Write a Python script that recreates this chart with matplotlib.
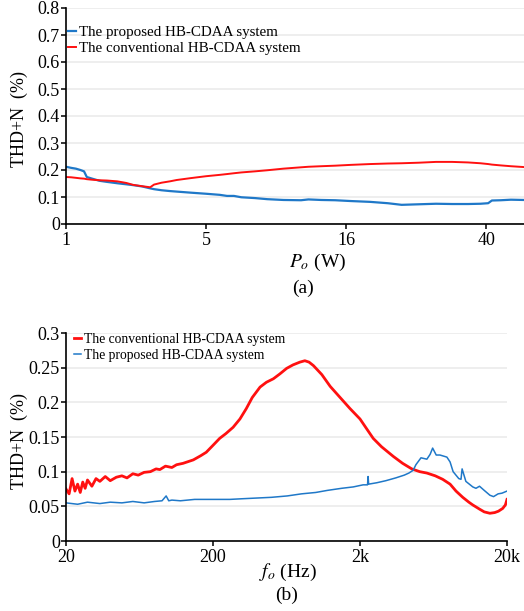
import numpy as np
import matplotlib
matplotlib.use('Agg')
import matplotlib.pyplot as plt

plt.rcParams['font.family'] = ['Liberation Serif', 'DejaVu Serif']
plt.rcParams['mathtext.fontset'] = 'stix'

# (a) THD+N vs output power
po_w = [1.0, 1.06, 1.12, 1.18, 1.23, 1.27, 1.35, 1.47, 1.6, 1.8, 2.0, 2.16, 2.4, 2.63, 2.75,
        3.0, 3.3, 3.57, 4.2, 5.0, 5.6, 5.95, 6.3, 6.7, 7.5, 8.3, 9.5, 11.0, 11.7, 13.0,
        14.6, 16.5, 18.7, 21.0, 23.0, 25.7, 28.8, 32.0, 35.5, 38.5, 40.5, 41.5, 44.0,
        47.0, 51.0]
thd_proposed = [0.212, 0.208, 0.205, 0.200, 0.195, 0.174, 0.168, 0.160, 0.156, 0.151,
                0.147, 0.144, 0.139, 0.132, 0.129, 0.125, 0.122, 0.120, 0.116, 0.112,
                0.108, 0.104, 0.104, 0.099, 0.096, 0.092, 0.089, 0.088, 0.091, 0.089,
                0.088, 0.085, 0.082, 0.077, 0.071, 0.073, 0.075, 0.074, 0.074, 0.075,
                0.077, 0.087, 0.088, 0.090, 0.089]
thd_conventional = [0.174, 0.173, 0.171, 0.169, 0.168, 0.166, 0.164, 0.162, 0.161, 0.158,
                    0.152, 0.145, 0.140, 0.136, 0.146, 0.153, 0.158, 0.163, 0.170, 0.177,
                    0.182, 0.185, 0.188, 0.191, 0.195, 0.199, 0.205, 0.210, 0.212, 0.214,
                    0.216, 0.219, 0.222, 0.224, 0.225, 0.227, 0.230, 0.230, 0.228, 0.225,
                    0.222, 0.220, 0.217, 0.214, 0.211]
po_ticks = [1, 5, 16, 40]

# (b) THD+N vs frequency
f_conv = [20, 21, 22, 23, 24, 25, 26, 27, 28, 30, 32, 34, 37, 40, 44, 48, 52, 57, 62, 68,
          75, 82, 87, 95, 105, 113, 125, 147, 165, 180, 200, 222, 245, 274, 305, 337, 370,
          418, 462, 515, 570, 634, 700, 780, 843, 900, 964, 1100, 1254, 1450, 1710, 2000,
          2250, 2460, 2800, 3370, 3900, 4500, 5100, 5700, 6500, 7300, 8200, 9000, 10000,
          11000, 11700, 13000, 14000, 15300, 16500, 17500, 18700, 19500, 20000]
thd_conv_b = [0.075, 0.068, 0.090, 0.072, 0.082, 0.070, 0.085, 0.076, 0.088, 0.079,
              0.090, 0.086, 0.093, 0.087, 0.092, 0.094, 0.091, 0.097, 0.095, 0.099,
              0.100, 0.104, 0.103, 0.108, 0.106, 0.110, 0.112, 0.117, 0.123, 0.128,
              0.138, 0.148, 0.155, 0.164, 0.176, 0.191, 0.207, 0.222, 0.229, 0.234,
              0.241, 0.249, 0.254, 0.258, 0.260, 0.258, 0.253, 0.240, 0.223, 0.208,
              0.191, 0.176, 0.160, 0.148, 0.136, 0.122, 0.112, 0.104, 0.100, 0.098,
              0.094, 0.089, 0.082, 0.072, 0.063, 0.056, 0.052, 0.046, 0.042, 0.040,
              0.041, 0.043, 0.047, 0.052, 0.060]
f_prop = [20, 24, 28, 34, 40, 48, 57, 68, 80, 90, 96, 100, 105, 120, 150, 200, 260, 320,
          400, 500, 640, 800, 1000, 1200, 1500, 1800, 2100, 2250, 2270, 2290, 2600, 3000,
          3500, 4000, 4300, 4600, 4800, 5200, 5700, 6000, 6240, 6600, 7000, 7800, 8200,
          8600, 9400, 9730, 9900, 10500, 11700, 12300, 13000, 14000, 15300, 16200, 17400,
          18500, 20000]
thd_prop_b = [0.055, 0.053, 0.056, 0.054, 0.056, 0.055, 0.057, 0.055, 0.057, 0.058,
              0.065, 0.058, 0.059, 0.058, 0.060, 0.060, 0.060, 0.061, 0.062, 0.063,
              0.065, 0.068, 0.070, 0.073, 0.076, 0.078, 0.081, 0.081, 0.093, 0.082,
              0.084, 0.087, 0.091, 0.095, 0.098, 0.102, 0.110, 0.120, 0.118, 0.125,
              0.134, 0.124, 0.124, 0.121, 0.114, 0.100, 0.090, 0.089, 0.104, 0.086,
              0.078, 0.076, 0.079, 0.073, 0.066, 0.064, 0.068, 0.069, 0.072]
f_ticks = [20, 200, 2000, 20000]
f_labels = ['20', '200', '2k', '20k']

BLUE = '#1f78c8'
RED = '#ff1010'
GRID = '#ebebeb'

# custom x scale for (a): equal spacing between 1, 5, 16, 40 W
lk = np.log10(po_ticks)
pos = np.arange(len(po_ticks), dtype=float)


def fwd(x):
    lx = np.log10(np.clip(x, 1e-6, None))
    u = np.interp(lx, lk, pos)
    u = np.where(lx > lk[-1], pos[-1] + (lx - lk[-1]) / (lk[-1] - lk[-2]), u)
    u = np.where(lx < lk[0], (lx - lk[0]) / (lk[1] - lk[0]), u)
    return u


def inv(u):
    u = np.asarray(u, dtype=float)
    lx = np.interp(u, pos, lk)
    lx = np.where(u > pos[-1], lk[-1] + (u - pos[-1]) * (lk[-1] - lk[-2]), lx)
    lx = np.where(u < 0, u * (lk[1] - lk[0]), lx)
    return 10 ** lx


def style(ax):
    for s in ['top', 'right']:
        ax.spines[s].set_visible(False)
    ax.spines['left'].set_linewidth(1.2)
    ax.spines['bottom'].set_linewidth(1.2)
    ax.yaxis.grid(True, color=GRID, lw=1.2)
    ax.set_axisbelow(True)
    ax.tick_params(direction='out', length=3.5, width=1.1, labelsize=13, pad=1)
    ax.tick_params(axis='x', pad=2)
    ax.minorticks_off()


def px(x, y):
    # pixel position -> figure fraction
    return x / 524, 1 - y / 611


fig = plt.figure(figsize=(5.24, 6.11), dpi=100)

ax1 = fig.add_axes([66 / 524, 1 - 224 / 611, 458 / 524, 216 / 611])
ax1.set_xscale('function', functions=(fwd, inv))
ax1.plot(po_w, thd_proposed, color=BLUE, lw=1.6, label='The proposed HB-CDAA system')
ax1.plot(po_w, thd_conventional, color=RED, lw=1.4, label='The conventional HB-CDAA system')
ax1.set_xlim(1, 51.2)
ax1.set_ylim(0, 0.8)
ax1.set_xticks(po_ticks)
ax1.set_xticklabels([str(t) for t in po_ticks])
ax1.set_yticks(np.arange(0, 0.81, 0.1))
ax1.set_yticklabels(['0'] + ['%.1f' % v for v in np.arange(0.1, 0.81, 0.1)])
style(ax1)
ax1.legend(loc='upper left', bbox_to_anchor=(-0.015, 0.96), frameon=False, fontsize=10.8,
           handlelength=0.5, handletextpad=0.2, labelspacing=0.15, borderaxespad=0.2)
fig.text(*px(19, 119), 'THD+N  (%)', rotation=90, ha='center', va='center', fontsize=13)
fig.text(*px(318, 262), '$P_o$ (W)', ha='center', va='center', fontsize=14)
fig.text(*px(303, 288), '(a)', ha='center', va='center', fontsize=14)

ax2 = fig.add_axes([66 / 524, 1 - 541 / 611, 441 / 524, 208 / 611])
ax2.plot(f_conv, thd_conv_b, color=RED, lw=2.0, label='The conventional HB-CDAA system')
ax2.plot(f_prop, thd_prop_b, color=BLUE, lw=1.1, label='The proposed HB-CDAA system')
ax2.set_xscale('log')
ax2.set_xlim(20, 20000)
ax2.set_ylim(0, 0.3)
ax2.set_xticks(f_ticks)
ax2.set_xticklabels(f_labels)
ax2.set_yticks([0, 0.05, 0.1, 0.15, 0.2, 0.25, 0.3])
ax2.set_yticklabels(['0', '0.05', '0.1', '0.15', '0.2', '0.25', '0.3'])
style(ax2)
ax2.legend(loc='upper left', bbox_to_anchor=(0.0, 1.04), frameon=False, fontsize=9.8,
           handlelength=0.5, handletextpad=0.2, labelspacing=0.25, borderaxespad=0.2)
fig.text(*px(19, 441), 'THD+N  (%)', rotation=90, ha='center', va='center', fontsize=13)
fig.text(*px(288, 572), '$f_o$ (Hz)', ha='center', va='center', fontsize=14)
fig.text(*px(287, 595), '(b)', ha='center', va='center', fontsize=14)

fig.savefig('out.png', dpi=100)
